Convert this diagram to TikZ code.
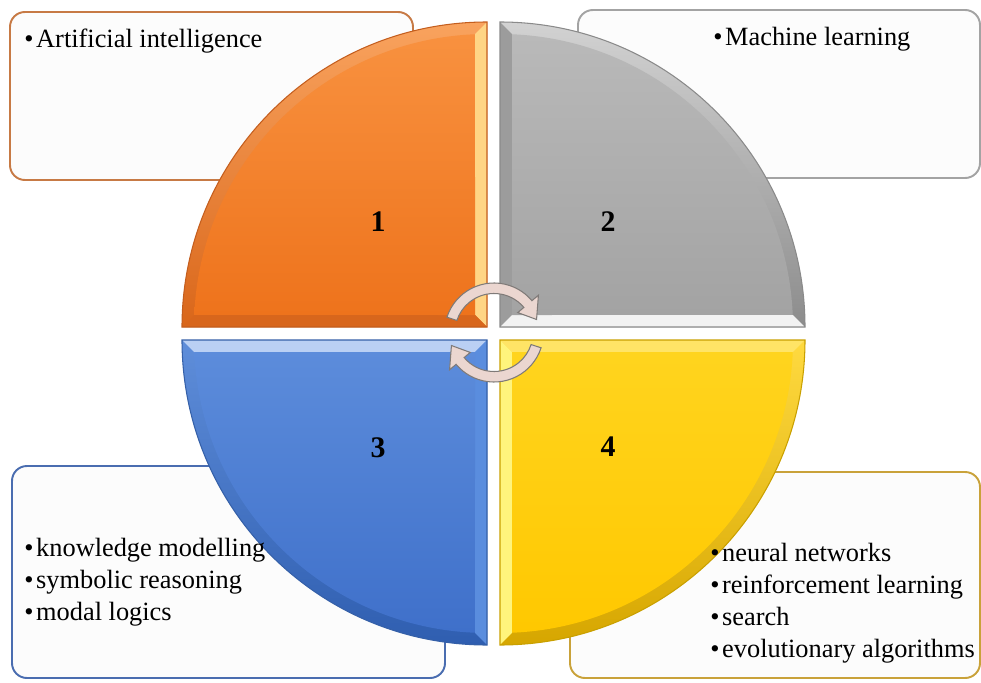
\documentclass[tikz,border=0pt]{standalone}
\usepackage{fontspec}
\setmainfont{Liberation Serif}
\usetikzlibrary{positioning}

\definecolor{boxFill}{HTML}{FCFCFC}
\definecolor{aiLine}{HTML}{C77A45}
\definecolor{mlLine}{HTML}{A3A3A3}
\definecolor{symLine}{HTML}{4A6DB0}
\definecolor{subLine}{HTML}{C9A23A}
% orange quarter
\definecolor{orEdgeTop}{HTML}{F9A35E}
\definecolor{orEdgeBot}{HTML}{D9661A}
\definecolor{orTop}{HTML}{F8913F}
\definecolor{orBot}{HTML}{EE731C}
\definecolor{orLight}{HTML}{FFD585}
\definecolor{orDark}{HTML}{D8661C}
\definecolor{orLine}{HTML}{C45E1E}
% gray quarter
\definecolor{grEdgeTop}{HTML}{D2D2D2}
\definecolor{grEdgeBot}{HTML}{8C8C8C}
\definecolor{grTop}{HTML}{B9B9B9}
\definecolor{grBot}{HTML}{A3A3A3}
\definecolor{grLight}{HTML}{F2F2F2}
\definecolor{grSide}{HTML}{9C9C9C}
\definecolor{grLine}{HTML}{8A8A8A}
% blue quarter
\definecolor{blEdgeTop}{HTML}{5F8EDA}
\definecolor{blEdgeBot}{HTML}{2F5EB0}
\definecolor{blTop}{HTML}{5C8CDB}
\definecolor{blBot}{HTML}{3F70CA}
\definecolor{blLight}{HTML}{BAD0F4}
\definecolor{blSide}{HTML}{5A8DDE}
\definecolor{blLine}{HTML}{3560A8}
% yellow quarter
\definecolor{yeEdgeTop}{HTML}{FFDA40}
\definecolor{yeEdgeBot}{HTML}{D6A600}
\definecolor{yeTop}{HTML}{FFD41E}
\definecolor{yeBot}{HTML}{FFC800}
\definecolor{yeLight}{HTML}{FFF47C}
\definecolor{yeSide}{HTML}{FFE466}
\definecolor{yeLine}{HTML}{C9A000}
% turning arrows
\definecolor{arrowPink}{HTML}{EBD6D0}
\definecolor{arrowLine}{HTML}{7F7A78}

\begin{document}
\begin{tikzpicture}[
        panel/.style={
            draw,
            line width=1.1pt,
            rounded corners=8.5pt,
            fill=boxFill,
            inner sep=0pt
        },
        item/.style={font=\fontsize{15}{18.2}\selectfont, align=left, inner sep=0pt},
        numeral/.style={font=\fontsize{17}{20}\selectfont\bfseries, inner sep=0pt},
        roundarrow/.style={fill=arrowPink, draw=arrowLine, line width=0.6pt}
    ]
        \useasboundingbox (0,0) rectangle (19.62,13.64);

        \node[panel, draw=aiLine, minimum width=8.06cm, minimum height=3.36cm] (aibox) at (4.23,11.72) {};
        \node[panel, draw=mlLine, minimum width=8.04cm, minimum height=3.36cm] (mlbox) at (15.58,11.76) {};
        \node[panel, draw=symLine, minimum width=8.66cm, minimum height=4.24cm] (symbox) at (4.57,2.20) {};
        \node[panel, draw=subLine, minimum width=8.20cm, minimum height=4.12cm] (subbox) at (15.50,2.14) {};

        % quarter 1
        \begin{scope}[shift={(9.74,7.10)}]
            \shade[top color=orEdgeTop, bottom color=orEdgeBot] (0,0) -- (90:6.1) arc[start angle=90, end angle=180, radius=6.1] -- cycle;
            \fill[orLight] (0,0) -- (0,6.1) -- (-0.24,5.855) -- (-0.24,0.24) -- cycle;
            \fill[orDark] (0,0) -- (-6.1,0) -- (-5.855,0.24) -- (-0.24,0.24) -- cycle;
            \shade[top color=orTop, bottom color=orBot] (-0.24,0.24) -- (92.35:5.86) arc[start angle=92.35, end angle=177.65, radius=5.86] -- cycle;
            \draw[orLine, line width=0.6pt] (0,0) -- (90:6.1) arc[start angle=90, end angle=180, radius=6.1] -- cycle;
        \end{scope}
        % quarter 2
        \begin{scope}[shift={(10.00,7.10)}]
            \shade[top color=grEdgeTop, bottom color=grEdgeBot] (0,0) -- (0:6.1) arc[start angle=0, end angle=90, radius=6.1] -- cycle;
            \fill[grSide] (0,0) -- (0,6.1) -- (0.24,5.855) -- (0.24,0.24) -- cycle;
            \fill[grLight] (0,0) -- (6.1,0) -- (5.855,0.24) -- (0.24,0.24) -- cycle;
            \shade[top color=grTop, bottom color=grBot] (0.24,0.24) -- (2.35:5.86) arc[start angle=2.35, end angle=87.65, radius=5.86] -- cycle;
            \draw[grLine, line width=0.6pt] (0,0) -- (0:6.1) arc[start angle=0, end angle=90, radius=6.1] -- cycle;
        \end{scope}
        % quarter 3
        \begin{scope}[shift={(9.74,6.84)}]
            \shade[top color=blEdgeTop, bottom color=blEdgeBot] (0,0) -- (180:6.1) arc[start angle=180, end angle=270, radius=6.1] -- cycle;
            \fill[blLight] (0,0) -- (-6.1,0) -- (-5.855,-0.24) -- (-0.24,-0.24) -- cycle;
            \fill[blSide] (0,0) -- (0,-6.1) -- (-0.24,-5.855) -- (-0.24,-0.24) -- cycle;
            \shade[top color=blTop, bottom color=blBot] (-0.24,-0.24) -- (182.35:5.86) arc[start angle=182.35, end angle=267.65, radius=5.86] -- cycle;
            \draw[blLine, line width=0.6pt] (0,0) -- (180:6.1) arc[start angle=180, end angle=270, radius=6.1] -- cycle;
        \end{scope}
        % quarter 4
        \begin{scope}[shift={(10.00,6.84)}]
            \shade[top color=yeEdgeTop, bottom color=yeEdgeBot] (0,0) -- (270:6.1) arc[start angle=270, end angle=360, radius=6.1] -- cycle;
            \fill[yeLight] (0,0) -- (0,-6.1) -- (0.24,-5.855) -- (0.24,-0.24) -- cycle;
            \fill[yeSide] (0,0) -- (6.1,0) -- (5.855,-0.24) -- (0.24,-0.24) -- cycle;
            \shade[top color=yeTop, bottom color=yeBot] (0.24,-0.24) -- (272.35:5.86) arc[start angle=272.35, end angle=357.65, radius=5.86] -- cycle;
            \draw[yeLine, line width=0.6pt] (0,0) -- (270:6.1) arc[start angle=270, end angle=360, radius=6.1] -- cycle;
        \end{scope}

        % turning arrows
        \begin{scope}[shift={(9.88,6.99)}]
            \filldraw[roundarrow] (162:0.99) arc[start angle=162, end angle=40, radius=0.99]
                -- (40:1.16) -- (17:0.89) -- (40:0.62) -- (40:0.78)
                arc[start angle=40, end angle=162, radius=0.78] -- cycle;
            \filldraw[roundarrow] (342:0.99) arc[start angle=342, end angle=220, radius=0.99]
                -- (220:1.16) -- (197:0.89) -- (220:0.62) -- (220:0.78)
                arc[start angle=220, end angle=342, radius=0.78] -- cycle;
        \end{scope}

        \node[numeral] (one) at (7.56,9.20) {1};
        \node[numeral] (two) at (12.16,9.20) {2};
        \node[numeral] (three) at (7.56,4.68) {3};
        \node[numeral] (four) at (12.16,4.70) {4};

        \node[item, anchor=base west] (ai) at (0.48,12.70) {•\kern1.5pt Artificial intelligence};
        \node[item, anchor=base west] (ml) at (14.26,12.74) {•\kern1.5pt Machine learning};
        \node[item, anchor=west] (symbolic) at (0.48,2.00)
            {•\kern1.5pt knowledge modelling\\•\kern1.5pt symbolic reasoning\\•\kern1.5pt modal logics};
        \node[item, anchor=west] (subsymbolic) at (14.20,1.57)
            {•\kern1.5pt neural networks\\•\kern1.5pt reinforcement learning\\•\kern1.5pt search\\•\kern1.5pt evolutionary algorithms};
    \end{tikzpicture}
\end{document}
